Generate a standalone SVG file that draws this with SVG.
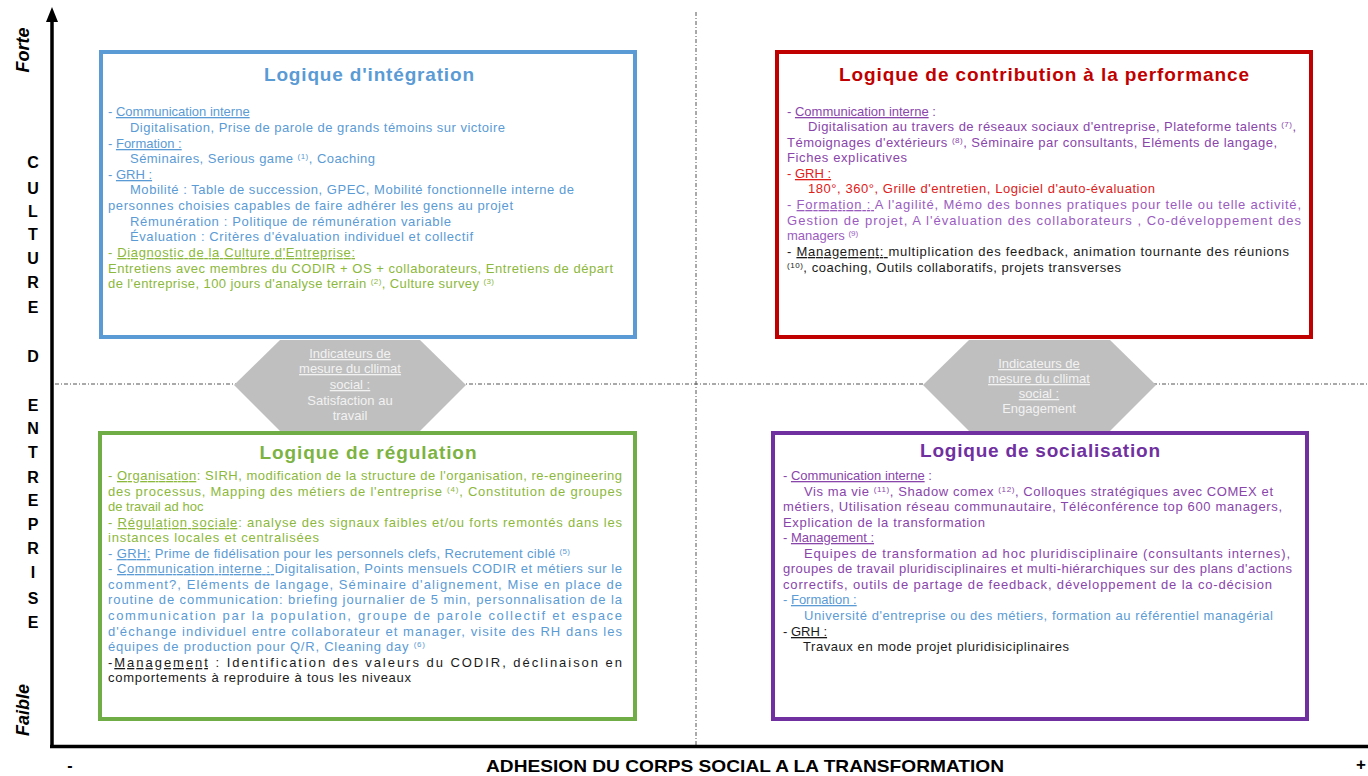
<svg xmlns="http://www.w3.org/2000/svg" width="1368" height="776" viewBox="0 0 1368 776">
<defs>
<style>
text{font-family:"Liberation Sans",Arial,sans-serif;}
.b{font-size:13px;}
.t{font-size:19px;font-weight:bold;text-anchor:middle;}
.u{text-decoration:underline;}
.sup{font-size:8px;}
.blue{fill:#5b9bd5;}
.green{fill:#8cb83c;}
.red{fill:#e0201a;}
.purp{fill:#8a45ab;}
.lpurp{fill:#9b5cc0;}
.blk{fill:#1a1a1a;}
.hx{fill:#bfbfbf;}
.hxt{font-size:13px;fill:#f2f2f2;text-anchor:middle;}
.dash{stroke:#555;stroke-width:1;stroke-dasharray:4 2 1 2;fill:none;}
.axis{stroke:#000;stroke-width:3.5;fill:none;}
.lt{font-size:16px;font-weight:bold;text-anchor:middle;fill:#000;}
.box{fill:#fff;stroke-width:4;}
</style>
</defs>
<rect width="1368" height="776" fill="#fff"/>

<g id="connectors">
<line class="dash" x1="55" y1="384" x2="1368" y2="384"/>
<line class="dash" x1="696" y1="12" x2="696" y2="745"/>
<line class="axis" x1="52" y1="18" x2="52" y2="748"/>
<polygon points="52,7 46,22 58,22" fill="#000"/>
<line class="axis" x1="50" y1="746.5" x2="1368" y2="746.5"/>
</g>

<g id="axis-labels">
<text transform="translate(29,50) rotate(-90)" font-size="18" font-style="italic" font-weight="bold" text-anchor="middle">Forte</text>
<text transform="translate(29,710) rotate(-90)" font-size="18" font-style="italic" font-weight="bold" text-anchor="middle">Faible</text>
<text class="lt" x="33" y="168">C</text>
<text class="lt" x="33" y="194">U</text>
<text class="lt" x="33" y="217">L</text>
<text class="lt" x="33" y="240">T</text>
<text class="lt" x="33" y="264">U</text>
<text class="lt" x="33" y="288">R</text>
<text class="lt" x="33" y="313">E</text>
<text class="lt" x="33" y="362">D</text>
<text class="lt" x="33" y="411">E</text>
<text class="lt" x="33" y="434">N</text>
<text class="lt" x="33" y="458">T</text>
<text class="lt" x="33" y="483">R</text>
<text class="lt" x="33" y="506">E</text>
<text class="lt" x="33" y="530">P</text>
<text class="lt" x="33" y="554">R</text>
<text class="lt" x="33" y="578">I</text>
<text class="lt" x="33" y="604">S</text>
<text class="lt" x="33" y="628">E</text>
<text x="70" y="771" font-size="16" font-weight="bold" text-anchor="middle">-</text>
<text x="486" y="772" font-size="17" font-weight="bold" textLength="518" lengthAdjust="spacingAndGlyphs">ADHESION DU CORPS SOCIAL A LA TRANSFORMATION</text>
<text x="1361" y="770" font-size="17" font-weight="bold" text-anchor="middle">+</text>
</g>

<g id="integration">
<rect class="box" x="101" y="52" width="534" height="285" stroke="#5b9bd5"/>
<text class="t blue" x="369" y="81" textLength="210">Logique d'intégration</text>
<text class="b blue" x="108" y="116">- <tspan class="u">Communication interne</tspan></text>
<text class="b blue" x="130" y="132" textLength="375">Digitalisation, Prise de parole de grands témoins sur victoire</text>
<text class="b blue" x="108" y="148">- <tspan class="u">Formation :</tspan></text>
<text class="b blue" x="130" y="163" textLength="245">Séminaires, Serious game <tspan class="sup" dy="-4">(1)</tspan><tspan dy="4">, Coaching</tspan></text>
<text class="b blue" x="108" y="179">- <tspan class="u">GRH  :</tspan></text>
<text class="b blue" x="130" y="194" textLength="444">Mobilité : Table de succession, GPEC,  Mobilité fonctionnelle interne de</text>
<text class="b blue" x="108" y="210" textLength="405">personnes choisies capables de faire adhérer les gens au projet</text>
<text class="b blue" x="130" y="226" textLength="321">Rémunération : Politique de rémunération variable</text>
<text class="b blue" x="130" y="241" textLength="343">Évaluation : Critères d'évaluation individuel et collectif</text>
<text class="b green" x="108" y="257" textLength="247">- <tspan class="u">Diagnostic de la Culture d'Entreprise:</tspan></text>
<text class="b green" x="108" y="273" textLength="505">Entretiens avec membres du CODIR + OS + collaborateurs, Entretiens de départ</text>
<text class="b green" x="108" y="288" textLength="386">de l'entreprise, 100 jours d'analyse terrain <tspan class="sup" dy="-4">(2)</tspan><tspan dy="4">, Culture survey </tspan><tspan class="sup" dy="-4">(3)</tspan></text>
</g>

<g id="contribution">
<rect class="box" x="777" y="52" width="534" height="285" stroke="#c00000"/>
<text class="t" x="1044" y="81" fill="#c00000" textLength="410">Logique de contribution à la performance</text>
<text class="b purp" x="787" y="116">- <tspan class="u">Communication interne</tspan> :</text>
<text class="b purp" x="808" y="131" textLength="488">Digitalisation au travers de réseaux sociaux d'entreprise, Plateforme talents <tspan class="sup" dy="-4">(7)</tspan><tspan dy="4">,</tspan></text>
<text class="b purp" x="787" y="147" textLength="490">Témoignages d'extérieurs <tspan class="sup" dy="-4">(8)</tspan><tspan dy="4">, Séminaire par consultants, Eléments de langage,</tspan></text>
<text class="b purp" x="787" y="162" textLength="120">Fiches explicatives</text>
<text class="b red" x="787" y="178">- <tspan class="u">GRH  :</tspan></text>
<text class="b red" x="808" y="193" textLength="347">180°, 360°, Grille d'entretien, Logiciel d'auto-évaluation</text>
<text class="b lpurp" x="787" y="209" textLength="514">- <tspan class="u">Formation : </tspan> A l'agilité, Mémo des bonnes pratiques pour telle ou telle activité,</text>
<text class="b lpurp" x="787" y="225" textLength="514">Gestion de projet, A l'évaluation des collaborateurs , Co-développement des</text>
<text class="b lpurp" x="787" y="240">managers <tspan class="sup" dy="-4">(9)</tspan></text>
<text class="b blk" x="787" y="256" textLength="502">- <tspan class="u">Management: </tspan>multiplication des feedback, animation tournante des réunions</text>
<text class="b blk" x="787" y="272" textLength="334"><tspan class="sup" dy="-4">(10)</tspan><tspan dy="4">, coaching, Outils collaboratifs, projets transverses</tspan></text>
</g>

<g id="regulation">
<rect class="box" x="100" y="433" width="535" height="286" stroke="#70ad47"/>
<text class="t" x="368" y="459" fill="#7cb342" textLength="217">Logique de régulation</text>
<text class="b green" x="108" y="480" textLength="514">- <tspan class="u">Organisation</tspan>: SIRH, modification de la structure de l'organisation, re-engineering</text>
<text class="b green" x="108" y="496" textLength="514">des processus, Mapping des métiers de l'entreprise <tspan class="sup" dy="-4">(4)</tspan><tspan dy="4">, Constitution de groupes</tspan></text>
<text class="b green" x="108" y="511">de travail ad hoc</text>
<text class="b green" x="108" y="527" textLength="514">- <tspan class="u">Régulation sociale</tspan>: analyse des signaux faibles et/ou forts remontés dans les</text>
<text class="b green" x="108" y="542" textLength="211">instances locales et centralisées</text>
<text class="b blue" x="108" y="558" textLength="462">- <tspan class="u">GRH:</tspan>  Prime de fidélisation pour les personnels clefs, Recrutement ciblé <tspan class="sup" dy="-4">(5)</tspan></text>
<text class="b blue" x="108" y="573" textLength="514">- <tspan class="u">Communication interne : </tspan>Digitalisation, Points mensuels CODIR et métiers sur le</text>
<text class="b blue" x="108" y="589" textLength="514">comment?, Eléments de langage, Séminaire d'alignement, Mise en place de</text>
<text class="b blue" x="108" y="604" textLength="514">routine de communication: briefing journalier de 5 min, personnalisation de la</text>
<text class="b blue" x="108" y="620" textLength="514">communication par la population, groupe de parole collectif et espace</text>
<text class="b blue" x="108" y="636" textLength="514">d'échange individuel entre collaborateur et manager, visite des RH dans les</text>
<text class="b blue" x="108" y="651" textLength="317">équipes de production pour Q/R, Cleaning day <tspan class="sup" dy="-4">(6)</tspan></text>
<text class="b blk" x="108" y="667" textLength="514">-<tspan class="u">Management</tspan> : Identification des valeurs du CODIR, déclinaison en</text>
<text class="b blk" x="108" y="682" textLength="303">comportements à reproduire à tous les niveaux</text>
</g>

<g id="socialisation">
<rect class="box" x="773" y="433" width="534" height="286" stroke="#7030a0"/>
<text class="t" x="1040" y="457" fill="#7030a0" textLength="240">Logique de socialisation</text>
<text class="b purp" x="783" y="480">- <tspan class="u">Communication interne</tspan> :</text>
<text class="b purp" x="804" y="496" textLength="469">Vis ma vie <tspan class="sup" dy="-4">(11)</tspan><tspan dy="4">, Shadow comex </tspan><tspan class="sup" dy="-4">(12)</tspan><tspan dy="4">, Colloques stratégiques avec COMEX et</tspan></text>
<text class="b purp" x="783" y="511" textLength="499">métiers, Utilisation réseau communautaire, Téléconférence top 600 managers,</text>
<text class="b purp" x="783" y="527" textLength="202">Explication de la transformation</text>
<text class="b purp" x="783" y="542">- <tspan class="u">Management  :</tspan></text>
<text class="b purp" x="804" y="558" textLength="486">Equipes de transformation ad hoc pluridisciplinaire (consultants internes),</text>
<text class="b purp" x="783" y="573" textLength="509">groupes de travail pluridisciplinaires et multi-hiérarchiques sur des plans d'actions</text>
<text class="b purp" x="783" y="589" textLength="489">correctifs, outils de partage de feedback, développement de la co-décision</text>
<text class="b blue" x="783" y="604">- <tspan class="u">Formation :</tspan></text>
<text class="b blue" x="804" y="620" textLength="469">Université d'entreprise ou des métiers, formation au référentiel managérial</text>
<text class="b blk" x="783" y="636">- <tspan class="u">GRH  :</tspan></text>
<text class="b blk" x="803" y="651" textLength="266">Travaux en mode projet pluridisiciplinaires</text>
</g>

<g id="indicateurs-satisfaction">
<polygon class="hx" points="234,385 280,340 420,340 466,385 420,431 280,431"/>
<text class="hxt" x="350" y="358"><tspan class="u">Indicateurs de</tspan></text>
<text class="hxt" x="350" y="373"><tspan class="u">mesure du cllimat</tspan></text>
<text class="hxt" x="350" y="389"><tspan class="u">social :</tspan></text>
<text class="hxt" x="350" y="405">Satisfaction au</text>
<text class="hxt" x="350" y="420">travail</text>
</g>

<g id="indicateurs-engagement">
<polygon class="hx" points="923,385 969,340 1110,340 1156,385 1110,431 969,431"/>
<text class="hxt" x="1039" y="368"><tspan class="u">Indicateurs de</tspan></text>
<text class="hxt" x="1039" y="383"><tspan class="u">mesure du cllimat</tspan></text>
<text class="hxt" x="1039" y="398"><tspan class="u">social :</tspan></text>
<text class="hxt" x="1039" y="413">Engagement</text>
</g>
</svg>
